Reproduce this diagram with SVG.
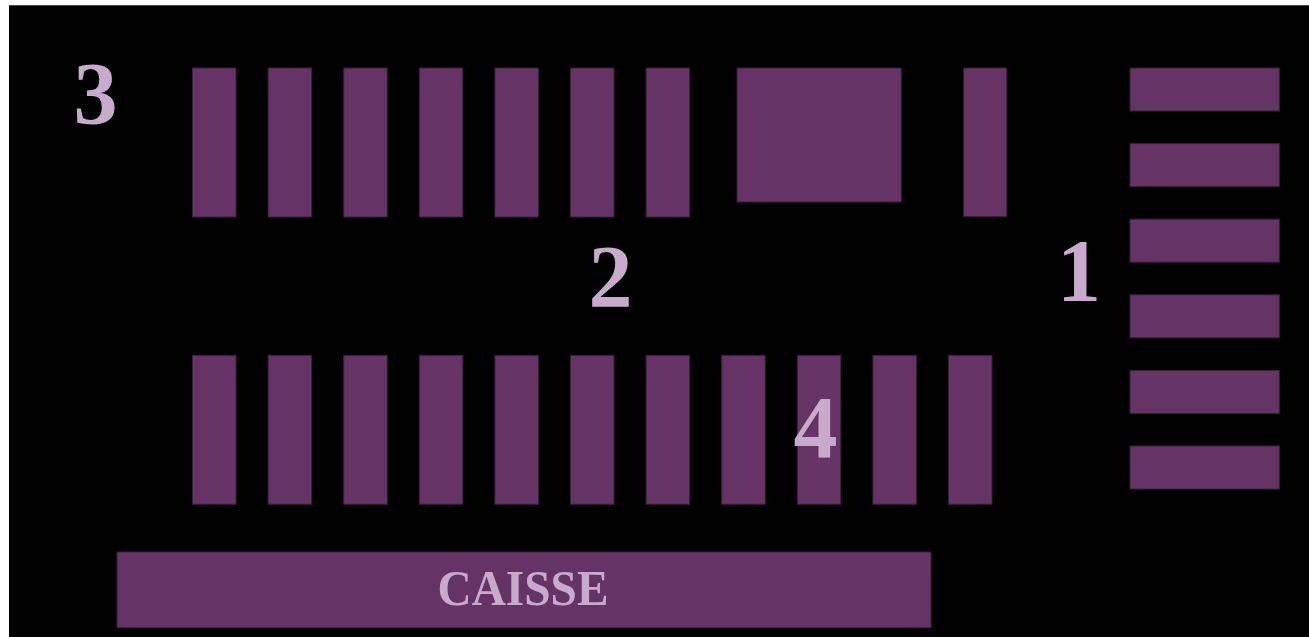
<svg xmlns="http://www.w3.org/2000/svg" width="1309" height="637" viewBox="0 0 1309 637">
<style>
.s{fill:#663366;stroke:#3a1f3a;stroke-width:1}
.t{fill:#c8aacc;font-family:"Liberation Serif","Times New Roman",serif;font-weight:bold;text-anchor:middle}
.n{font-size:88px}
</style>
<rect x="0" y="0" width="1309" height="637" fill="#ffffff"/>
<rect x="9" y="5" width="1300" height="632" fill="#000000"/>
<line x1="9" y1="5.5" x2="1309" y2="5.5" stroke="#444444" stroke-width="1"/>
<g id="top-row">
<rect class="s" x="192.5" y="68" width="43.5" height="149"/>
<rect class="s" x="268.1" y="68" width="43.5" height="149"/>
<rect class="s" x="343.7" y="68" width="43.5" height="149"/>
<rect class="s" x="419.3" y="68" width="43.5" height="149"/>
<rect class="s" x="494.9" y="68" width="43.5" height="149"/>
<rect class="s" x="570.5" y="68" width="43.5" height="149"/>
<rect class="s" x="646.1" y="68" width="43.5" height="149"/>
</g>
<g id="big-block"><rect class="s" x="737" y="68" width="164.3" height="134"/></g>
<g id="top-right-post"><rect class="s" x="963.7" y="68" width="43" height="148.7"/></g>
<g id="right-column">
<rect class="s" x="1130" y="68" width="149.3" height="43"/>
<rect class="s" x="1130" y="143.6" width="149.3" height="43"/>
<rect class="s" x="1130" y="219.2" width="149.3" height="43"/>
<rect class="s" x="1130" y="294.8" width="149.3" height="43"/>
<rect class="s" x="1130" y="370.4" width="149.3" height="43"/>
<rect class="s" x="1130" y="446" width="149.3" height="43"/>
</g>
<g id="bottom-row">
<rect class="s" x="192.5" y="355.3" width="43.5" height="149"/>
<rect class="s" x="268.1" y="355.3" width="43.5" height="149"/>
<rect class="s" x="343.7" y="355.3" width="43.5" height="149"/>
<rect class="s" x="419.3" y="355.3" width="43.5" height="149"/>
<rect class="s" x="494.9" y="355.3" width="43.5" height="149"/>
<rect class="s" x="570.5" y="355.3" width="43.5" height="149"/>
<rect class="s" x="646.1" y="355.3" width="43.5" height="149"/>
<rect class="s" x="721.7" y="355.3" width="43.5" height="149"/>
<rect class="s" x="797.3" y="355.3" width="43.5" height="149"/>
<rect class="s" x="872.9" y="355.3" width="43.5" height="149"/>
<rect class="s" x="948.5" y="355.3" width="43.5" height="149"/>
</g>
<g id="caisse">
<rect class="s" x="117" y="552" width="814" height="75.8"/>
<text class="t" x="523" y="604.5" font-size="50" textLength="171" lengthAdjust="spacingAndGlyphs">CAISSE</text>
</g>
<g id="labels">
<text class="t n" x="95.5" y="123">3</text>
<text class="t n" x="610.5" y="305.5">2</text>
<text class="t n" x="1079" y="300">1</text>
<text class="t n" x="815.5" y="457">4</text>
</g>
</svg>
